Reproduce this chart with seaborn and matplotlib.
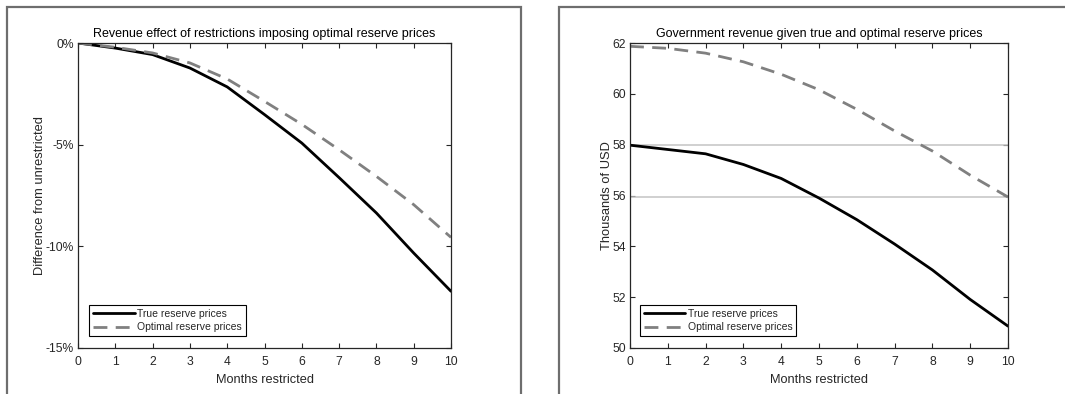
import numpy as np
import pandas as pd
import matplotlib
matplotlib.use("Agg")
import matplotlib.pyplot as plt
from matplotlib.patches import Rectangle
import seaborn as sns

# Months of restriction
months = [0, 1, 2, 3, 4, 5, 6, 7, 8, 9, 10]

# Left panel: percent difference from the unrestricted revenue
pct_true = [0.0, -0.25, -0.57, -1.23, -2.16, -3.52, -4.92, -6.62, -8.36, -10.33, -12.21]
pct_optimal = [0.0, -0.21, -0.49, -0.98, -1.77, -2.87, -4.0, -5.25, -6.56, -7.95, -9.56]

# Right panel: government revenue, thousands of USD
rev_true = [57.98, 57.81, 57.64, 57.22, 56.67, 55.90, 55.05, 54.09, 53.07, 51.91, 50.86]
rev_optimal = [61.87, 61.79, 61.60, 61.26, 60.77, 60.16, 59.39, 58.54, 57.75, 56.80, 55.94]

# Reference levels drawn across the right panel
ref_levels = [57.98, 55.94]

series_names = ["True reserve prices", "Optimal reserve prices"]
x_ticks = list(range(0, 11))
left_yticks = [0, -5, -10, -15]
left_yticklabels = ["0%", "-5%", "-10%", "-15%"]
right_yticks = [50, 52, 54, 56, 58, 60, 62]

sns.set_theme(style="white")
plt.rcParams["font.family"] = ["Liberation Sans", "DejaVu Sans"]
plt.rcParams["font.size"] = 8.5

axis_color = "#262626"

fig = plt.figure(figsize=(10.65, 3.94), dpi=100)
W, H = 1065, 394


def px_axes(x0, x1, ytop, ybot):
    return fig.add_axes([x0 / W, (H - ybot) / H, (x1 - x0) / W, (ybot - ytop) / H])


ax1 = px_axes(78, 451, 43, 348)
ax2 = px_axes(630, 1008, 43, 348)

# Panel frames around each subplot
frame_kw = dict(fill=False, edgecolor="#6e6e6e", linewidth=1.6, transform=fig.transFigure,
                clip_on=False)
fig.patches.append(Rectangle((7 / W, -0.1), (521 - 7) / W, (H - 7) / H + 0.1, **frame_kw))
fig.patches.append(Rectangle((559 / W, -0.1), (1100 - 559) / W, (H - 7) / H + 0.1, **frame_kw))


def long_frame(x, a, b):
    return pd.DataFrame({
        "month": x * 2,
        "value": list(a) + list(b),
        "series": [series_names[0]] * len(a) + [series_names[1]] * len(b),
    })


palette = {series_names[0]: "black", series_names[1]: "#808080"}
dash_map = {series_names[0]: "", series_names[1]: (5, 3)}


def draw(ax, df):
    sns.lineplot(data=df, x="month", y="value", hue="series", style="series",
                 palette=palette, dashes=dash_map, linewidth=2, ax=ax,
                 legend=True)


for lvl in ref_levels:
    ax2.axhline(lvl, color="#c4c4c4", linewidth=1.1, zorder=1)

draw(ax1, long_frame(months, pct_true, pct_optimal))
draw(ax2, long_frame(months, rev_true, rev_optimal))

titles = ["Revenue effect of restrictions imposing optimal reserve prices",
          "Government revenue given true and optimal reserve prices"]
ylabels = ["Difference from unrestricted", "Thousands of USD"]
legend_anchor = [(0.03, 0.039), (0.026, 0.039)]

for ax, title, ylabel, anchor in zip([ax1, ax2], titles, ylabels, legend_anchor):
    ax.set_xlim(0, 10)
    ax.set_xticks(x_ticks)
    ax.set_title(title, fontsize=9, color="black", pad=4)
    ax.set_xlabel("Months restricted", fontsize=9.2, color=axis_color, labelpad=4)
    ax.set_ylabel(ylabel, fontsize=9.3, color=axis_color, labelpad=-0.5)
    ax.tick_params(direction="in", length=3.5, width=0.8, colors=axis_color,
                   labelsize=8.7, top=True, right=True, bottom=True, left=True, pad=3)
    ax.tick_params(axis="x", pad=6)
    for sp in ax.spines.values():
        sp.set_color(axis_color)
        sp.set_linewidth(0.9)
        sp.set_visible(True)
    handles, labels = ax.get_legend_handles_labels()
    leg = ax.legend(handles, labels, loc="lower left", bbox_to_anchor=anchor,
                    frameon=True, fancybox=False, framealpha=1, edgecolor="black",
                    fontsize=7.5, handlelength=4.0, handletextpad=0.2,
                    borderpad=0.38, labelspacing=0.32, borderaxespad=0)
    leg.get_frame().set_linewidth(0.8)

ax1.set_ylim(-15, 0)
ax1.set_yticks(left_yticks)
ax1.set_yticklabels(left_yticklabels)

ax2.set_ylim(50, 62)
ax2.set_yticks(right_yticks)

fig.savefig("out.png", dpi=100)
